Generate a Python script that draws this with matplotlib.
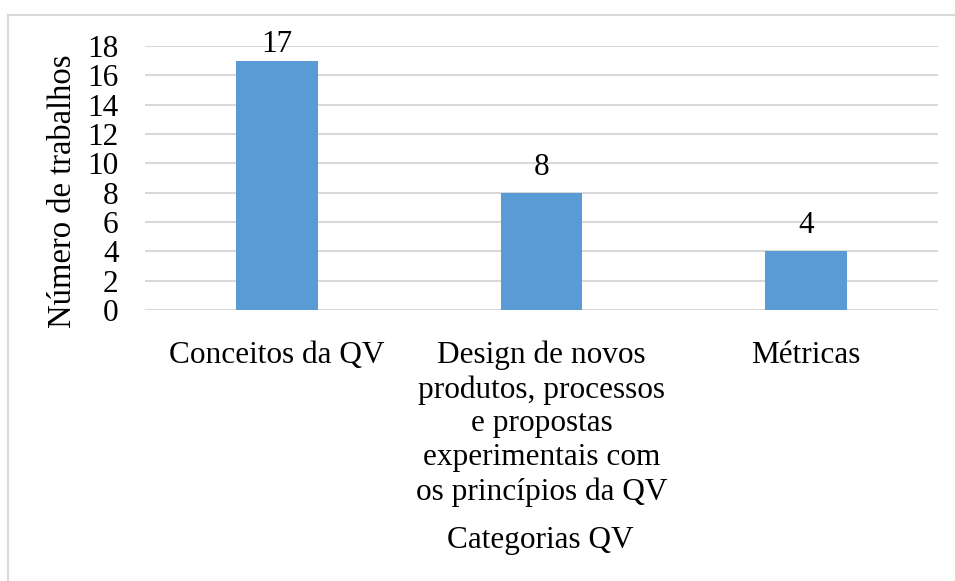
import matplotlib.pyplot as plt
from matplotlib.lines import Line2D

plt.rcParams['font.family'] = ['Liberation Serif', 'DejaVu Serif']

categorias = ['Conceitos da QV',
              'Design de novos\nprodutos, processos\ne propostas\nexperimentais com\nos princípios da QV',
              'Métricas']
num_trabalhos = [17, 8, 4]
yticks = list(range(0, 20, 2))

fig = plt.figure(figsize=(9.55, 5.81), dpi=100)
ax = fig.add_axes([0.1518, 0.4664, 0.8304, 0.4544])

x = range(len(categorias))
bars = ax.bar(x, num_trabalhos, width=0.31, color='#5B9BD5', zorder=3)
for rect, val in zip(bars, num_trabalhos):
    # rotulo mais perto da barra quando ela chega no topo do grafico
    off = 1 if val > 16 else 8
    ax.annotate(str(val), (rect.get_x() + rect.get_width() / 2, rect.get_height()),
                xytext=(0, off), textcoords='offset points', ha='center', va='bottom',
                fontsize=22.5)

ax.set_xlim(-0.5, 2.5)
ax.set_ylim(0, 18)
ax.set_yticks(yticks)
ax.set_xticks(list(x))
ax.set_xticklabels(categorias, fontsize=22.5, linespacing=1.22, va='top')
ax.tick_params(axis='y', labelsize=22.5, length=0, pad=19)
ax.tick_params(axis='x', length=0, pad=22)
ax.grid(axis='y', color='#D9D9D9', linewidth=1.5, zorder=0)
for s in ax.spines.values():
    s.set_visible(False)

ax.set_ylabel('Número de trabalhos', fontsize=23.5)
ax.yaxis.set_label_coords(-0.085, 0.45)
fig.text(0.566, 0.07, 'Categorias QV', ha='center', va='center', fontsize=22.5)

# borda do grafico (so em cima e a esquerda)
fig.add_artist(Line2D([8 / 955, 8 / 955], [0, 1 - 15 / 581], transform=fig.transFigure,
                      color='#D9D9D9', linewidth=1.5))
fig.add_artist(Line2D([8 / 955, 1], [1 - 15 / 581, 1 - 15 / 581], transform=fig.transFigure,
                      color='#D9D9D9', linewidth=1.5))

plt.savefig('out.png', dpi=100)
